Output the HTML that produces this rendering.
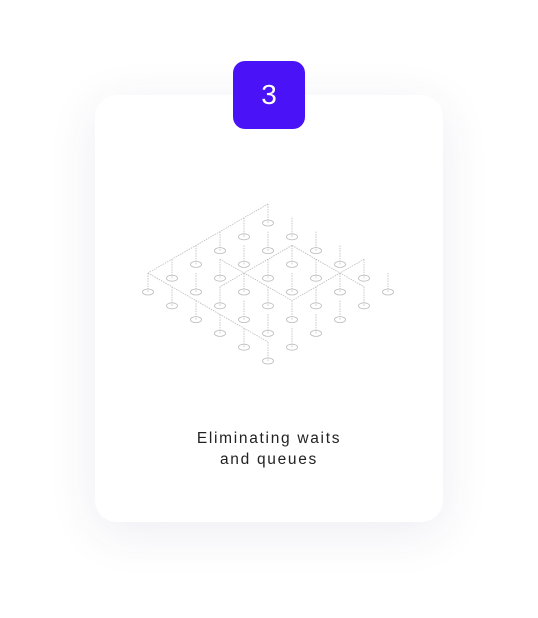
<!DOCTYPE html>
<html><head><meta charset="utf-8"><style>
html,body{margin:0;padding:0;width:538px;height:618px;background:#fff;overflow:hidden;font-family:"Liberation Sans",sans-serif}
.card{position:absolute;left:95px;top:95px;width:348px;height:427px;border-radius:22px;background:#fff;box-shadow:0 10px 50px rgba(60,60,120,0.09)}
.badge{position:absolute;left:233px;top:61px;width:72px;height:68px;border-radius:12px;background:#4a12f6;color:#fff;font-size:28px;display:flex;align-items:center;justify-content:center}
.title{position:absolute;left:95px;width:348px;top:428px;text-align:center;font-size:15.5px;line-height:21px;letter-spacing:1.7px;color:#222}
svg{position:absolute;left:0;top:0}
</style></head><body>
<div class="card"></div>
<div class="badge">3</div>
<svg id="ill" width="538" height="618"></svg>
<div class="title">Eliminating waits<br>and queues</div>
<script>
const rows=[0,1,2,3,4,5];
const cols=[0,1,2,3,4,5];
const svg=document.getElementById('ill');
const NS='http://www.w3.org/2000/svg';
function px(i,j){return [268-24*i+24*j,223+13.8*i+13.8*j];}
const H=19;
function line(a,b){const l=document.createElementNS(NS,'line');l.setAttribute('x1',a[0]);l.setAttribute('y1',a[1]);l.setAttribute('x2',b[0]);l.setAttribute('y2',b[1]);l.setAttribute('stroke','#bbb');l.setAttribute('stroke-width','0.8');l.setAttribute('stroke-dasharray','1.5 1');svg.appendChild(l);}
const railsI=[[0,0,5],[2,1,4],[4,0,3]];
const railsJ=[[0,0,0],[5,0,5],[1,2,5],[3,1,4]];
railsI.forEach(r=>{const a=px(r[1],r[0]),b=px(r[2],r[0]);line([a[0],a[1]-H],[b[0],b[1]-H]);});
railsJ.forEach(r=>{const a=px(r[0],r[1]),b=px(r[0],r[2]);line([a[0],a[1]-H],[b[0],b[1]-H]);});
rows.forEach(i=>cols.forEach(j=>{
  const p=px(i,j);
  line([p[0],p[1]],[p[0],p[1]-H]);
  const e=document.createElementNS(NS,'ellipse');
  e.setAttribute('cx',p[0]);e.setAttribute('cy',p[1]);e.setAttribute('rx',5.5);e.setAttribute('ry',3);
  e.setAttribute('fill','none');e.setAttribute('stroke','#bbb');e.setAttribute('stroke-width','0.8');
  
  
  svg.appendChild(e);
}));
</script>
</body></html>
